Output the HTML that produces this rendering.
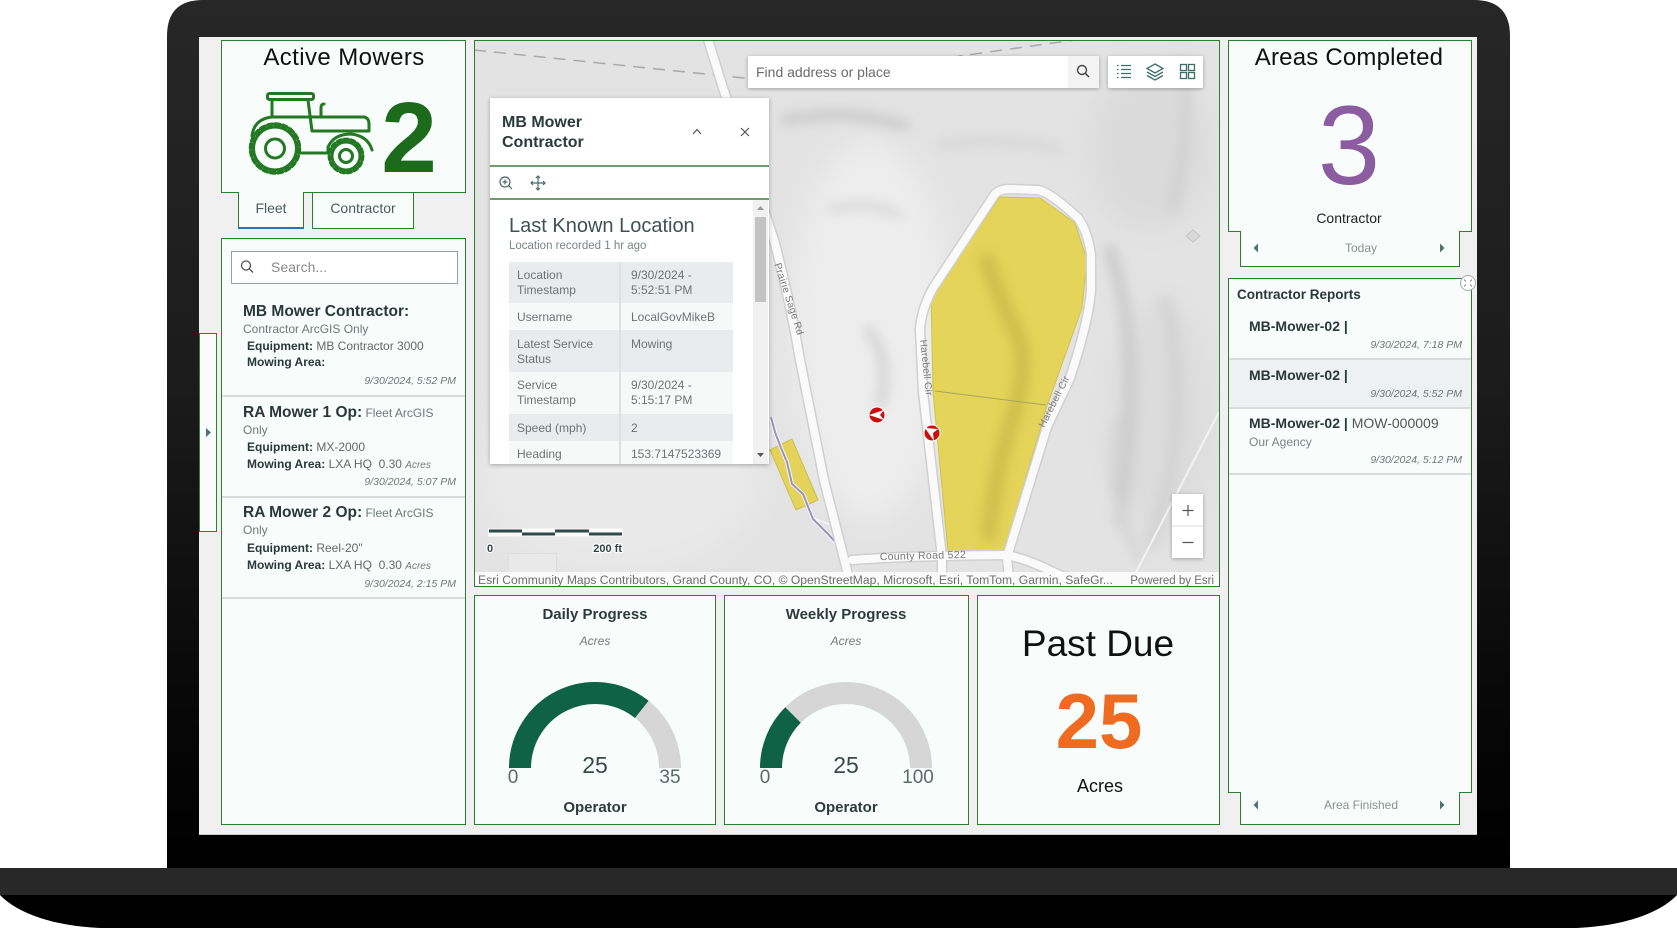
<!DOCTYPE html>
<html><head><meta charset="utf-8"><style>html,body{margin:0;padding:0;background:#fff;overflow:hidden;width:1677px;height:928px}svg{display:block}</style></head><body>
<svg xmlns="http://www.w3.org/2000/svg" width="1677" height="928" viewBox="0 0 1677 928" font-family="'Liberation Sans', sans-serif">
<defs>
<linearGradient id="bez" x1="0" y1="0" x2="0" y2="1"><stop offset="0" stop-color="#272727"/><stop offset=".45" stop-color="#1b1b1b"/><stop offset=".8" stop-color="#080808"/><stop offset="1" stop-color="#000"/></linearGradient>
<filter id="b6" x="-50%" y="-50%" width="200%" height="200%"><feGaussianBlur stdDeviation="6"/></filter>
<filter id="b14" x="-50%" y="-50%" width="200%" height="200%"><feGaussianBlur stdDeviation="14"/></filter>
<filter id="sh" x="-10%" y="-10%" width="120%" height="120%"><feDropShadow dx="0" dy="1" stdDeviation="2" flood-color="#000" flood-opacity=".3"/></filter>
<clipPath id="mc"><rect x="475" y="41" width="744" height="545"/></clipPath>
<clipPath id="pc"><rect x="490" y="200" width="263" height="264"/></clipPath>
<clipPath id="polyc"><path d="M1000,197 L1040,198 L1075,223 L1087,260 L1082,308 L1047,406 L1003,554 L948,551 L933,392 L931,296 Z"/></clipPath>
</defs>
<rect width="1677" height="928" fill="#fff"/>
<!-- laptop base -->
<rect x="0" y="868" width="1677" height="27" fill="#282828"/>
<path d="M0,895 C18,914 55,926 100,928 L1577,928 C1622,926 1659,914 1677,895 Z" fill="#000"/>
<!-- frame -->
<path d="M167,868 L167,36 Q167,0 203,0 L1474,0 Q1510,0 1510,36 L1510,868 Z" fill="url(#bez)"/>
<rect x="199" y="37" width="1278" height="797" fill="#f0f0f0"/>
<line x1="199" y1="834.5" x2="1477" y2="834.5" stroke="#c9c9c9" stroke-width="1"/>

<!-- Active Mowers panel -->
<path d="M221.5,40.5 H465.5 V192.5 H303.5 V228.5 H238.5 V192.5 H221.5 Z" fill="#f8fdfc" stroke="#2e7d32" stroke-width="1"/>
<line x1="238.5" y1="228" x2="303.5" y2="228" stroke="#2b72b8" stroke-width="2"/>
<rect x="312.5" y="192.5" width="101" height="36" fill="#f8fdfc" stroke="#2e7d32" stroke-width="1"/>
<text x="344" y="65" font-size="24" letter-spacing=".4" fill="#111" text-anchor="middle">Active Mowers</text>
<text x="409" y="172" font-size="100" font-weight="bold" fill="#1c6b1c" text-anchor="middle">2</text>
<g fill="none" stroke="#237823" stroke-width="3" stroke-linecap="round" stroke-linejoin="round">
<rect x="267.5" y="93.5" width="46" height="6" rx="2"/>
<path d="M272,100 V117 M308,100 L312,131"/>
<path d="M252,136 Q254,119 272,117 L364,117 Q369,118 369,124 L369,131 L313,131"/>
<path d="M372,150 Q368,136 351,134 Q334,134 328,147 L328,153 L301,153"/>
<path d="M321,116 V108 Q321,104 324,104"/>
<circle cx="275" cy="148.5" r="21.5"/>
<circle cx="275" cy="148.5" r="24.5" stroke-width="3.5" stroke-dasharray="4.5 3.2"/>
<circle cx="275" cy="148.5" r="9.5"/>
<circle cx="346" cy="156" r="14"/>
<circle cx="346" cy="156" r="16.8" stroke-width="3.2" stroke-dasharray="4 3"/>
<circle cx="346" cy="156" r="6.5"/>
</g>
<text x="271" y="213" font-size="14" fill="#505a5a" text-anchor="middle">Fleet</text>
<text x="363" y="213" font-size="14" fill="#505a5a" text-anchor="middle">Contractor</text>

<!-- side collapsed tab -->
<rect x="199.5" y="333.5" width="17" height="198" fill="#f8fdfc" stroke="#2e7d32" stroke-width="1"/>
<polygon points="206,428 211,432.5 206,437" fill="#4e7373"/>

<!-- List panel -->
<rect x="221.5" y="238.5" width="244" height="586" fill="#f8fdfc" stroke="#2e7d32" stroke-width="1"/>
<rect x="231.5" y="251.5" width="226" height="32" fill="#fff" stroke="#9aa0a0" stroke-width="1"/>
<circle cx="246" cy="265.5" r="4.5" fill="none" stroke="#555" stroke-width="1.3"/>
<line x1="249.3" y1="268.8" x2="253" y2="272.5" stroke="#555" stroke-width="1.3"/>
<text x="271" y="272" font-size="14" fill="#8a8a8a">Search...</text>

<g fill="#2b3838">
<text x="243" y="316" font-size="15.5" font-weight="bold">MB Mower Contractor:</text>
<text x="243" y="333" font-size="12" fill="#6f7777">Contractor ArcGIS Only</text>
<text x="247" y="350" font-size="12"><tspan font-weight="bold">Equipment:</tspan><tspan fill="#666"> MB Contractor 3000</tspan></text>
<text x="247" y="366" font-size="12" font-weight="bold">Mowing Area:</text>
<text x="456" y="384" font-size="10.5" font-style="italic" fill="#6f7777" text-anchor="end">9/30/2024, 5:52 PM</text>
<line x1="222" y1="396" x2="465" y2="396" stroke="#d8dcdc" stroke-width="2"/>

<text x="243" y="417" font-size="15.5" font-weight="bold">RA Mower 1 Op:<tspan font-size="12" font-weight="normal" fill="#6f7777"> Fleet ArcGIS</tspan></text>
<text x="243" y="434" font-size="12" fill="#6f7777">Only</text>
<text x="247" y="451" font-size="12"><tspan font-weight="bold">Equipment:</tspan><tspan fill="#666"> MX-2000</tspan></text>
<text x="247" y="468" font-size="12" xml:space="preserve"><tspan font-weight="bold">Mowing Area:</tspan><tspan fill="#666"> LXA HQ  0.30 </tspan><tspan fill="#777" font-size="10" font-style="italic">Acres</tspan></text>
<text x="456" y="485" font-size="10.5" font-style="italic" fill="#6f7777" text-anchor="end">9/30/2024, 5:07 PM</text>
<line x1="222" y1="497" x2="465" y2="497" stroke="#d8dcdc" stroke-width="2"/>

<text x="243" y="517" font-size="15.5" font-weight="bold">RA Mower 2 Op:<tspan font-size="12" font-weight="normal" fill="#6f7777"> Fleet ArcGIS</tspan></text>
<text x="243" y="534" font-size="12" fill="#6f7777">Only</text>
<text x="247" y="552" font-size="12"><tspan font-weight="bold">Equipment:</tspan><tspan fill="#666"> Reel-20"</tspan></text>
<text x="247" y="569" font-size="12" xml:space="preserve"><tspan font-weight="bold">Mowing Area:</tspan><tspan fill="#666"> LXA HQ  0.30 </tspan><tspan fill="#777" font-size="10" font-style="italic">Acres</tspan></text>
<text x="456" y="587" font-size="10.5" font-style="italic" fill="#6f7777" text-anchor="end">9/30/2024, 2:15 PM</text>
<line x1="222" y1="598" x2="465" y2="598" stroke="#d8dcdc" stroke-width="2"/>
</g>

<!-- MAP -->
<g clip-path="url(#mc)">
<rect x="475" y="41" width="744" height="545" fill="#e3e3e3"/>
<g filter="url(#b14)">
<ellipse cx="870" cy="330" rx="80" ry="190" fill="#ededed"/>
<ellipse cx="620" cy="480" rx="140" ry="90" fill="#e9e9e9"/>
<ellipse cx="1150" cy="150" rx="60" ry="80" fill="#dadada"/>
<ellipse cx="1160" cy="420" rx="50" ry="120" fill="#dcdcdc"/>
</g>
<g filter="url(#b6)" fill="none" stroke-linecap="round">
<path d="M785,120 Q850,108 905,126" stroke="#c6c6c6" stroke-width="9"/>
<path d="M940,145 Q1000,135 1060,150" stroke="#d2d2d2" stroke-width="7"/>
<path d="M1110,250 Q1145,350 1120,520" stroke="#cbcbcb" stroke-width="12"/>
<path d="M1165,300 Q1195,420 1150,545" stroke="#d0d0d0" stroke-width="10"/>
<path d="M868,330 Q892,360 880,405" stroke="#c9c9c9" stroke-width="7"/>
<path d="M1180,60 Q1195,120 1172,210" stroke="#cfcfcf" stroke-width="9"/>
<path d="M540,250 Q600,240 640,270" stroke="#d4d4d4" stroke-width="8"/>
<path d="M1120,420 Q1100,480 1140,560" stroke="#d3d3d3" stroke-width="8"/>
<path d="M830,210 Q870,200 900,215" stroke="#d0d0d0" stroke-width="6"/>
<path d="M500,120 Q560,110 620,140" stroke="#d6d6d6" stroke-width="8"/>
</g>
<path d="M474,50 L744,78 Q850,86 960,56 L1075,40" fill="none" stroke="#a9a9a9" stroke-width="1.5" stroke-dasharray="12 8"/>
<line x1="1219" y1="412" x2="1133" y2="578" stroke="#f3f3f3" stroke-width="2"/>
<line x1="810" y1="517" x2="842" y2="529" stroke="#f5f5f5" stroke-width="2"/>
<!-- small yellow area -->
<polygon points="770,450 792,439 818,500 796,510" fill="#e3d35a" stroke="#cdbd4a" stroke-width="1"/>
<path d="M771,417 L775,432 L781,448 L787,462 L792,484 L803,494 L813,519 L827,533 L840,547" fill="none" stroke="#f7f7f7" stroke-width="4"/>
<path d="M771,417 L775,432 L781,448 L787,462 L792,484 L803,494 L813,519 L827,533 L840,547" fill="none" stroke="#9c93b8" stroke-width="2"/>
<!-- big polygon -->
<path d="M1000,197 L1040,198 L1075,223 L1087,260 L1082,308 L1047,406 L1003,554 L948,551 L933,392 L931,296 Z" fill="#e4d45a" stroke="#d2c24a" stroke-width="1"/>
<g clip-path="url(#polyc)"><path d="M985,255 Q1000,300 1015,330 Q1032,362 1010,425 Q995,475 988,540" fill="none" stroke="#b8a93e" stroke-width="13" opacity=".55" filter="url(#b6)"/></g>
<line x1="935" y1="391" x2="1046" y2="405" stroke="#aaa55e" stroke-width="1"/>
<!-- roads -->
<g fill="none" stroke-linecap="round" stroke-linejoin="round">
<g stroke="#d0d0d0" stroke-width="11">
<path d="M707,36 L722,85 L774,240 Q790,300 800,360 L824,480 L852,590"/>
<path d="M942,590 L942,557 L923,392 L920,330 Q921,310 933,288 L995,194 Q1000,189 1010,189 L1038,190 Q1050,192 1078,218 Q1088,232 1091,255 L1091,290 Q1089,320 1070,378 L1047,427 L1007,557 L1010,590"/>
<path d="M852,560 Q900,556 1007,555 Q1030,560 1053,572 L1100,592"/>
</g>
<g stroke="#fafafa" stroke-width="8">
<path d="M707,36 L722,85 L774,240 Q790,300 800,360 L824,480 L852,590"/>
<path d="M942,590 L942,557 L923,392 L920,330 Q921,310 933,288 L995,194 Q1000,189 1010,189 L1038,190 Q1050,192 1078,218 Q1088,232 1091,255 L1091,290 Q1089,320 1070,378 L1047,427 L1007,557 L1010,590"/>
<path d="M852,560 Q900,556 1007,555 Q1030,560 1053,572 L1100,592"/>
</g>
</g>
<g font-size="10" fill="#7a7a7a" text-anchor="middle" letter-spacing=".3">
<text transform="translate(786,300) rotate(72)">Prairie Sage Rd</text>
<text transform="translate(923,368) rotate(84)">Harebell Cir</text>
<text transform="translate(1057,403) rotate(-63)">Harebell Cir</text>
<text transform="translate(923,559) rotate(-1.5)" font-size="10.5">County Road 522</text>
</g>
<polygon points="1186,236 1193,230 1200,236 1193,242" fill="#d9d9d9" stroke="#c5c5c5"/>
<!-- markers -->
<circle cx="877" cy="415" r="8" fill="#cf0c0c" stroke="#fff" stroke-width="1"/>
<polygon points="869,415 884,410 880,415 884,420" fill="#fff"/>
<circle cx="932" cy="433" r="8" fill="#cf0c0c" stroke="#fff" stroke-width="1"/>
<polygon points="925,428 938,429 933,433 934,441" fill="#fff"/>
<!-- search -->
<rect x="748" y="56" width="351" height="32" fill="#fff" filter="url(#sh)"/>
<rect x="1068" y="56" width="31" height="32" fill="#f3f3f3"/>
<circle cx="1082" cy="70" r="4.5" fill="none" stroke="#444" stroke-width="1.4"/>
<line x1="1085.3" y1="73.3" x2="1089" y2="77" stroke="#444" stroke-width="1.5"/>
<text x="756" y="77" font-size="14" fill="#6b6b6b">Find address or place</text>
<rect x="1108" y="56" width="95" height="32" rx="2" fill="#fff" filter="url(#sh)"/>
<g stroke="#416c6c" stroke-width="1.3" fill="none">
<path d="M1121,65.5 H1131 M1121,69.5 H1131 M1121,73.5 H1131 M1121,77.5 H1131"/>
<path d="M1117,65.5 h1.5 M1117,69.5 h1.5 M1117,73.5 h1.5 M1117,77.5 h1.5"/>
<path d="M1155,64 L1163,68.5 L1155,73 L1147,68.5 Z"/>
<path d="M1147,72 L1155,76.5 L1163,72 M1147,75.5 L1155,80 L1163,75.5"/>
<rect x="1180.5" y="64.5" width="6" height="6"/><rect x="1188.5" y="64.5" width="6" height="6"/>
<rect x="1180.5" y="72.5" width="6" height="6"/><rect x="1188.5" y="72.5" width="6" height="6"/>
</g>
<!-- zoom -->
<rect x="1172" y="494" width="31" height="64" fill="#fff" filter="url(#sh)"/>
<line x1="1172" y1="526" x2="1203" y2="526" stroke="#ddd"/>
<path d="M1182.5,510.5 H1193.5 M1188,505 V516 M1182.5,542.5 H1193.5" stroke="#555" stroke-width="1.2"/>
<!-- scale bar -->
<rect x="488" y="528.5" width="135" height="8" fill="#fff" opacity=".8"/>
<rect x="489" y="529.5" width="33" height="3" fill="#2d4a4a"/>
<rect x="522" y="532.5" width="33" height="3" fill="#2d4a4a"/>
<rect x="555" y="529.5" width="34" height="3" fill="#2d4a4a"/>
<rect x="589" y="532.5" width="33" height="3" fill="#2d4a4a"/>
<g font-size="11" font-weight="bold" fill="#2d4545" stroke="#fff" stroke-width="2.5" paint-order="stroke">
<text x="487" y="552">0</text>
<text x="622" y="552" text-anchor="end">200 ft</text>
</g>
<rect x="508.5" y="553.5" width="48" height="19" fill="#e9e9e9" stroke="#dedede"/>
<!-- attribution -->
<rect x="475" y="572" width="744" height="15" fill="#fff" opacity=".8"/>
<text x="478" y="584" font-size="11.5" fill="#6e6e6e" textLength="635" lengthAdjust="spacingAndGlyphs">Esri Community Maps Contributors, Grand County, CO, © OpenStreetMap, Microsoft, Esri, TomTom, Garmin, SafeGr...</text>
<text x="1214" y="584" font-size="11.5" fill="#6e6e6e" text-anchor="end">Powered by Esri</text>
</g>
<rect x="474.5" y="40.5" width="745" height="546" fill="none" stroke="#2e7d32" stroke-width="1"/>

<!-- popup -->
<rect x="490" y="98" width="279" height="366" fill="#fff" filter="url(#sh)"/>
<text x="502" y="127" font-size="16" font-weight="bold" fill="#2b3a3a">MB Mower</text>
<text x="502" y="147" font-size="16" font-weight="bold" fill="#2b3a3a">Contractor</text>
<polyline points="693,134 697,129.5 701,134" fill="none" stroke="#555" stroke-width="1.2"/>
<path d="M741,128 L749,136 M749,128 L741,136" stroke="#555" stroke-width="1.2"/>
<line x1="490" y1="166" x2="769" y2="166" stroke="#3a7f3a" stroke-width="1.5"/>
<g fill="none" stroke="#4a6a6a" stroke-width="1.2">
<circle cx="505" cy="182" r="5"/><path d="M508.6,185.6 L512,189 M502.5,182 H507.5 M505,179.5 V184.5"/>
<path d="M538,176 V190 M531,183 H545 M536,178 L538,176 L540,178 M536,188 L538,190 L540,188 M533,181 L531,183 L533,185 M543,181 L545,183 L543,185"/>
</g>
<line x1="490" y1="199" x2="769" y2="199" stroke="#3a7f3a" stroke-width="1.5"/>
<g clip-path="url(#pc)">
<text x="509" y="232" font-size="20" fill="#3f5252">Last Known Location</text>
<text x="509" y="249" font-size="11.5" fill="#7a8585">Location recorded 1 hr ago</text>
<rect x="509" y="262" width="224" height="41" fill="#e9ecec"/>
<rect x="509" y="303" width="224" height="27" fill="#f7f9f9"/>
<rect x="509" y="330" width="224" height="42" fill="#e9ecec"/>
<rect x="509" y="372" width="224" height="42" fill="#f7f9f9"/>
<rect x="509" y="414" width="224" height="27" fill="#e9ecec"/>
<rect x="509" y="441" width="224" height="30" fill="#f7f9f9"/>
<line x1="620" y1="262" x2="620" y2="470" stroke="#dde1e1" stroke-width="2"/>
<g font-size="12" fill="#6e7474">
<text x="517" y="279">Location</text><text x="517" y="294">Timestamp</text>
<text x="631" y="279">9/30/2024 -</text><text x="631" y="294">5:52:51 PM</text>
<text x="517" y="321">Username</text><text x="631" y="321">LocalGovMikeB</text>
<text x="517" y="348">Latest Service</text><text x="517" y="363">Status</text><text x="631" y="348">Mowing</text>
<text x="517" y="389">Service</text><text x="517" y="404">Timestamp</text>
<text x="631" y="389">9/30/2024 -</text><text x="631" y="404">5:15:17 PM</text>
<text x="517" y="432">Speed (mph)</text><text x="631" y="432">2</text>
<text x="517" y="458">Heading</text><text x="631" y="458">153.7147523369</text>
</g>
</g>
<rect x="753" y="200" width="15" height="264" fill="#f1f1f1"/>
<rect x="755" y="217" width="11" height="85" fill="#c3c3c3"/>
<polygon points="757,210 760.5,206 764,210" fill="#999"/>
<polygon points="757,453 760.5,457 764,453" fill="#555"/>

<!-- Gauges -->
<rect x="474.5" y="595.5" width="241" height="229" fill="#f8fdfc" stroke="#2e7d32" stroke-width="1"/>
<rect x="724.5" y="595.5" width="244" height="229" fill="#f8fdfc" stroke="#2e7d32" stroke-width="1"/>
<rect x="977.5" y="595.5" width="242" height="229" fill="#f8fdfc" stroke="#2e7d32" stroke-width="1"/>
<text x="595" y="619" font-size="15" font-weight="bold" fill="#2f3a3a" text-anchor="middle">Daily Progress</text>
<text x="595" y="645" font-size="12" font-style="italic" fill="#777" text-anchor="middle">Acres</text>
<path d="M520,768 A75,75 0 0 1 670,768" fill="none" stroke="#d6d6d6" stroke-width="22"/>
<path d="M520,768 A75,75 0 0 1 641.8,709.4" fill="none" stroke="#0f6245" stroke-width="22"/>
<text x="595" y="773" font-size="23" fill="#3c4848" text-anchor="middle">25</text>
<text x="513" y="783" font-size="19" fill="#5e6868" text-anchor="middle">0</text>
<text x="670" y="783" font-size="19" fill="#5e6868" text-anchor="middle">35</text>
<text x="595" y="812" font-size="15" font-weight="bold" fill="#2f3a3a" text-anchor="middle">Operator</text>

<text x="846" y="619" font-size="15" font-weight="bold" fill="#2f3a3a" text-anchor="middle">Weekly Progress</text>
<text x="846" y="645" font-size="12" font-style="italic" fill="#777" text-anchor="middle">Acres</text>
<path d="M771,768 A75,75 0 0 1 921,768" fill="none" stroke="#d6d6d6" stroke-width="22"/>
<path d="M771,768 A75,75 0 0 1 793,715" fill="none" stroke="#0f6245" stroke-width="22"/>
<text x="846" y="773" font-size="23" fill="#3c4848" text-anchor="middle">25</text>
<text x="765" y="783" font-size="19" fill="#5e6868" text-anchor="middle">0</text>
<text x="918" y="783" font-size="19" fill="#5e6868" text-anchor="middle">100</text>
<text x="846" y="812" font-size="15" font-weight="bold" fill="#2f3a3a" text-anchor="middle">Operator</text>

<!-- Past Due -->
<text x="1098" y="656" font-size="37" fill="#111" text-anchor="middle">Past Due</text>
<text x="1099" y="748" font-size="78" font-weight="bold" fill="#ef6b21" text-anchor="middle">25</text>
<text x="1100" y="792" font-size="18" fill="#111" text-anchor="middle">Acres</text>

<!-- Areas Completed -->
<path d="M1228.5,40.5 H1471.5 V231.5 H1459.5 V266.5 H1240.5 V231.5 H1228.5 Z" fill="#f8fdfc" stroke="#2e7d32" stroke-width="1"/>
<text x="1349" y="65" font-size="24" letter-spacing=".2" fill="#111" text-anchor="middle">Areas Completed</text>
<text x="1349" y="184" font-size="112" fill="#8b5ca0" text-anchor="middle">3</text>
<text x="1349" y="223" font-size="14" fill="#222" text-anchor="middle">Contractor</text>
<polygon points="1258,243.5 1253.5,248 1258,252.5" fill="#4e7373"/>
<polygon points="1440,243.5 1444.5,248 1440,252.5" fill="#4e7373"/>
<text x="1361" y="252" font-size="12" fill="#8a8f8f" text-anchor="middle">Today</text>

<!-- Contractor Reports -->
<path d="M1228.5,278.5 H1471.5 V792.5 H1459.5 V824.5 H1240.5 V792.5 H1228.5 Z" fill="#f8fdfc" stroke="#2e7d32" stroke-width="1"/>
<text x="1237" y="299" font-size="13.5" font-weight="bold" fill="#2b3838">Contractor Reports</text>
<text x="1249" y="331" font-size="14" font-weight="bold" fill="#2b3838">MB-Mower-02 |</text>
<text x="1462" y="348" font-size="10.5" font-style="italic" fill="#6f7777" text-anchor="end">9/30/2024, 7:18 PM</text>
<line x1="1229" y1="359" x2="1471" y2="359" stroke="#d8dcdc" stroke-width="2"/>
<rect x="1229" y="360" width="242" height="47" fill="#edf1f1"/>
<text x="1249" y="380" font-size="14" font-weight="bold" fill="#2b3838">MB-Mower-02 |</text>
<text x="1462" y="397" font-size="10.5" font-style="italic" fill="#6f7777" text-anchor="end">9/30/2024, 5:52 PM</text>
<line x1="1229" y1="408" x2="1471" y2="408" stroke="#d8dcdc" stroke-width="2"/>
<text x="1249" y="428" font-size="14" font-weight="bold" fill="#2b3838">MB-Mower-02 |<tspan font-weight="normal" fill="#555"> MOW-000009</tspan></text>
<text x="1249" y="446" font-size="12" fill="#7a8282">Our Agency</text>
<text x="1462" y="463" font-size="10.5" font-style="italic" fill="#6f7777" text-anchor="end">9/30/2024, 5:12 PM</text>
<line x1="1229" y1="474" x2="1471" y2="474" stroke="#d8dcdc" stroke-width="2"/>
<circle cx="1468" cy="283" r="7.5" fill="#fff" stroke="#aaa" stroke-width="1"/>
<path d="M1464,279.5 l2,2 M1472,279.5 l-2,2 M1464,286.5 l2,-2 M1472,286.5 l-2,-2" stroke="#888" stroke-width="1"/>
<polygon points="1258,800.5 1253.5,805 1258,809.5" fill="#4e7373"/>
<polygon points="1440,800.5 1444.5,805 1440,809.5" fill="#4e7373"/>
<text x="1361" y="809" font-size="12" fill="#8a8f8f" text-anchor="middle">Area Finished</text>
</svg>
</body></html>
